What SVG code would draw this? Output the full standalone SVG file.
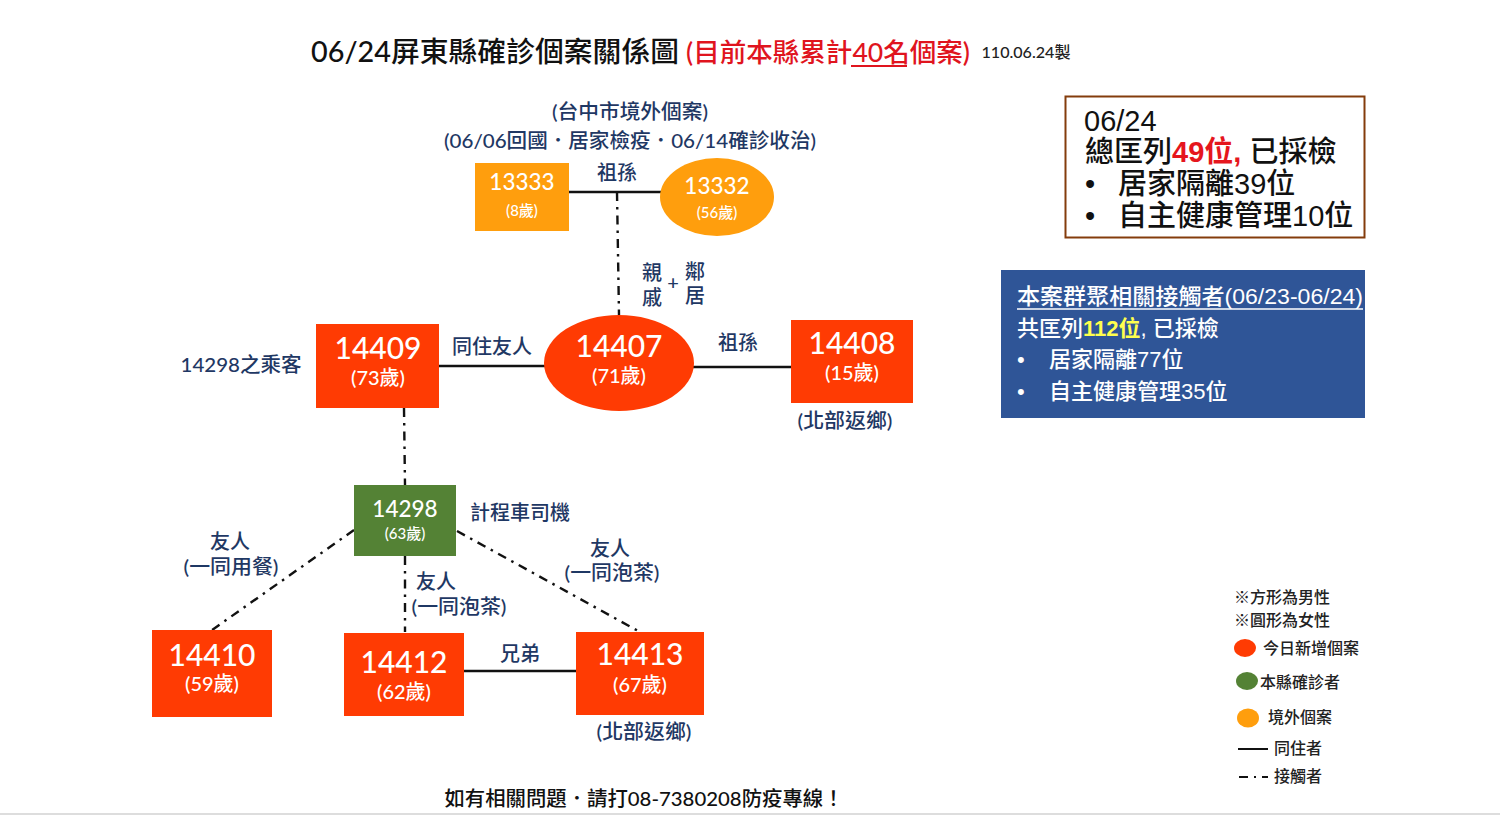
<svg xmlns="http://www.w3.org/2000/svg" width="1500" height="815" viewBox="0 0 1500 815">
<style>
text{font-family:Lato,"Noto Sans CJK TC","Noto Sans",sans-serif;text-anchor:middle;font-weight:500}
.l{fill:#1f3864;font-size:20px}
.n{fill:#fff;font-size:30px}
.a{fill:#fff;font-size:20px}
.sn{fill:#fff;font-size:22.500px}
.sa{fill:#fff;font-size:15px}
.red{fill:#ff3b03}.org{fill:#ff9e0d}.grn{fill:#548235}
.solid{stroke:#111;stroke-width:2.5;fill:none}
.dash{stroke:#111;stroke-width:2.4;fill:none;stroke-dasharray:9 6 2.500 6}
.b{font-size:29px;text-anchor:start;fill:#111;font-family:"Liberation Sans","Noto Sans CJK TC",sans-serif}
.w{font-size:22px;text-anchor:start;fill:#fff;font-family:"Liberation Sans","Noto Sans CJK TC",sans-serif}
.k{font-size:16px;text-anchor:start;fill:#222}
</style>
<rect width="1500" height="815" fill="#fff"/>
<rect y="813" width="1500" height="2" fill="#ddd"/>
<g id="title">
<text x="495" y="62" font-size="28" fill="#111" textLength="368" lengthAdjust="spacingAndGlyphs">06/24屏東縣確診個案關係圖</text>
<text x="828" y="62" font-size="26" fill="#e0141e" textLength="284" lengthAdjust="spacingAndGlyphs">(目前本縣累計40名個案)</text>
<line x1="851" y1="66" x2="907" y2="66" stroke="#e0141e" stroke-width="2"/>
<text x="1026" y="58" font-size="16" fill="#222" textLength="89" lengthAdjust="spacingAndGlyphs">110.06.24製</text>
</g>
<g id="connectors">
<line class="solid" x1="569" y1="192" x2="661" y2="192"/>
<line class="solid" x1="439" y1="366" x2="545" y2="366"/>
<line class="solid" x1="692" y1="367" x2="791" y2="367"/>
<line class="solid" x1="464" y1="671" x2="576" y2="671"/>
<line class="dash" x1="617" y1="192" x2="619" y2="315"/>
<line class="dash" x1="404" y1="408" x2="405" y2="485"/>
<line class="dash" x1="354" y1="530" x2="212" y2="630"/>
<line class="dash" x1="405" y1="556" x2="405" y2="632"/>
<line class="dash" x1="457" y1="531" x2="640" y2="632"/>
</g>
<g id="labels">
<text class="l" x="630" y="119" textLength="156" lengthAdjust="spacingAndGlyphs">(台中市境外個案)</text>
<text class="l" x="630" y="148" textLength="372" lengthAdjust="spacingAndGlyphs">(06/06回國．居家檢疫．06/14確診收治)</text>
<text class="l" x="617" y="180">祖孫</text>
<text class="l" x="652" y="280">親</text><text class="l" x="652" y="305">戚</text>
<text class="l" x="673" y="290">+</text>
<text class="l" x="695" y="279">鄰</text><text class="l" x="695" y="303">居</text>
<text class="l" x="241" y="372" textLength="121" lengthAdjust="spacingAndGlyphs">14298之乘客</text>
<text class="l" x="492" y="354">同住友人</text>
<text class="l" x="738" y="350">祖孫</text>
<text class="l" x="845" y="428" textLength="95" lengthAdjust="spacingAndGlyphs">(北部返鄉)</text>
<text class="l" x="520" y="520">計程車司機</text>
<text class="l" x="230" y="549">友人</text>
<text class="l" x="231" y="574" textLength="95" lengthAdjust="spacingAndGlyphs">(一同用餐)</text>
<text class="l" x="436" y="589">友人</text>
<text class="l" x="459" y="614" textLength="95" lengthAdjust="spacingAndGlyphs">(一同泡茶)</text>
<text class="l" x="610" y="556">友人</text>
<text class="l" x="612" y="580" textLength="95" lengthAdjust="spacingAndGlyphs">(一同泡茶)</text>
<text class="l" x="520" y="661">兄弟</text>
<text class="l" x="644" y="739" textLength="95" lengthAdjust="spacingAndGlyphs">(北部返鄉)</text>
</g>
<g id="n13333"><rect class="org" x="475" y="163" width="94" height="68"/><text class="sn" x="522" y="190">13333</text><text class="sa" x="522" y="216">(8歲)</text></g>
<g id="n13332"><ellipse class="org" cx="717" cy="197" rx="57" ry="39"/><text class="sn" x="717" y="194">13332</text><text class="sa" x="717" y="218">(56歲)</text></g>
<g id="n14409"><rect class="red" x="316" y="324" width="123" height="84"/><text class="n" x="378" y="359">14409</text><text class="a" x="378" y="385">(73歲)</text></g>
<g id="n14407"><ellipse class="red" cx="619" cy="363" rx="75" ry="48"/><text class="n" x="619" y="357">14407</text><text class="a" x="619" y="383">(71歲)</text></g>
<g id="n14408"><rect class="red" x="791" y="320" width="122" height="83"/><text class="n" x="852" y="354">14408</text><text class="a" x="852" y="380">(15歲)</text></g>
<g id="n14298"><rect class="grn" x="354" y="485" width="102" height="71"/><text class="sn" x="405" y="517">14298</text><text class="sa" x="405" y="539">(63歲)</text></g>
<g id="n14410"><rect class="red" x="152" y="630" width="120" height="87"/><text class="n" x="212" y="666">14410</text><text class="a" x="212" y="691">(59歲)</text></g>
<g id="n14412"><rect class="red" x="344" y="633" width="120" height="83"/><text class="n" x="404" y="673">14412</text><text class="a" x="404" y="699">(62歲)</text></g>
<g id="n14413"><rect class="red" x="576" y="632" width="128" height="83"/><text class="n" x="640" y="665">14413</text><text class="a" x="640" y="692">(67歲)</text></g>
<g id="box-total">
<rect x="1065.500" y="96.500" width="299" height="141" fill="#fff" stroke="#843c0c" stroke-width="2"/>
<text class="b" x="1084" y="131">06/24</text>
<text class="b" x="1085" y="162">總匡列<tspan fill="#e5161d" font-weight="700">49位,</tspan> 已採檢</text>
<text class="b" x="1085" y="194">•</text><text class="b" x="1118" y="194">居家隔離39位</text>
<text class="b" x="1085" y="226">•</text><text class="b" x="1118" y="226">自主健康管理10位</text>
</g>
<g id="box-contacts">
<rect x="1001" y="270" width="364" height="148" fill="#2f5597"/>
<text class="w" x="1017" y="304" textLength="346" lengthAdjust="spacingAndGlyphs">本案群聚相關接觸者(06/23-06/24)</text>
<line x1="1017" y1="309" x2="1363" y2="309" stroke="#fff" stroke-width="1.500"/>
<text class="w" x="1017" y="336">共匡列<tspan fill="#ffff4d" font-weight="700">112位</tspan>, 已採檢</text>
<text class="w" x="1017" y="367">•</text><text class="w" x="1049" y="367">居家隔離77位</text>
<text class="w" x="1017" y="399">•</text><text class="w" x="1049" y="399">自主健康管理35位</text>
</g>
<g id="legend">
<text class="k" x="1234" y="603">※方形為男性</text>
<text class="k" x="1234" y="626">※圓形為女性</text>
<ellipse class="red" cx="1245" cy="648" rx="11" ry="9"/><text class="k" x="1263" y="654">今日新增個案</text>
<ellipse class="grn" cx="1247" cy="681" rx="11" ry="9"/><text class="k" x="1260" y="688">本縣確診者</text>
<ellipse class="org" cx="1248" cy="718" rx="11" ry="9.500"/><text class="k" x="1268" y="723">境外個案</text>
<line x1="1238" y1="749" x2="1268" y2="749" stroke="#111" stroke-width="2"/><text class="k" x="1274" y="754">同住者</text>
<line x1="1239" y1="777" x2="1268" y2="777" stroke="#111" stroke-width="2" stroke-dasharray="9 6 2 6"/><text class="k" x="1274" y="782">接觸者</text>
</g>
<g id="footer"><text x="644" y="806" font-size="20" fill="#111" textLength="399" lengthAdjust="spacingAndGlyphs">如有相關問題．請打08-7380208防疫專線！</text></g>
</svg>
